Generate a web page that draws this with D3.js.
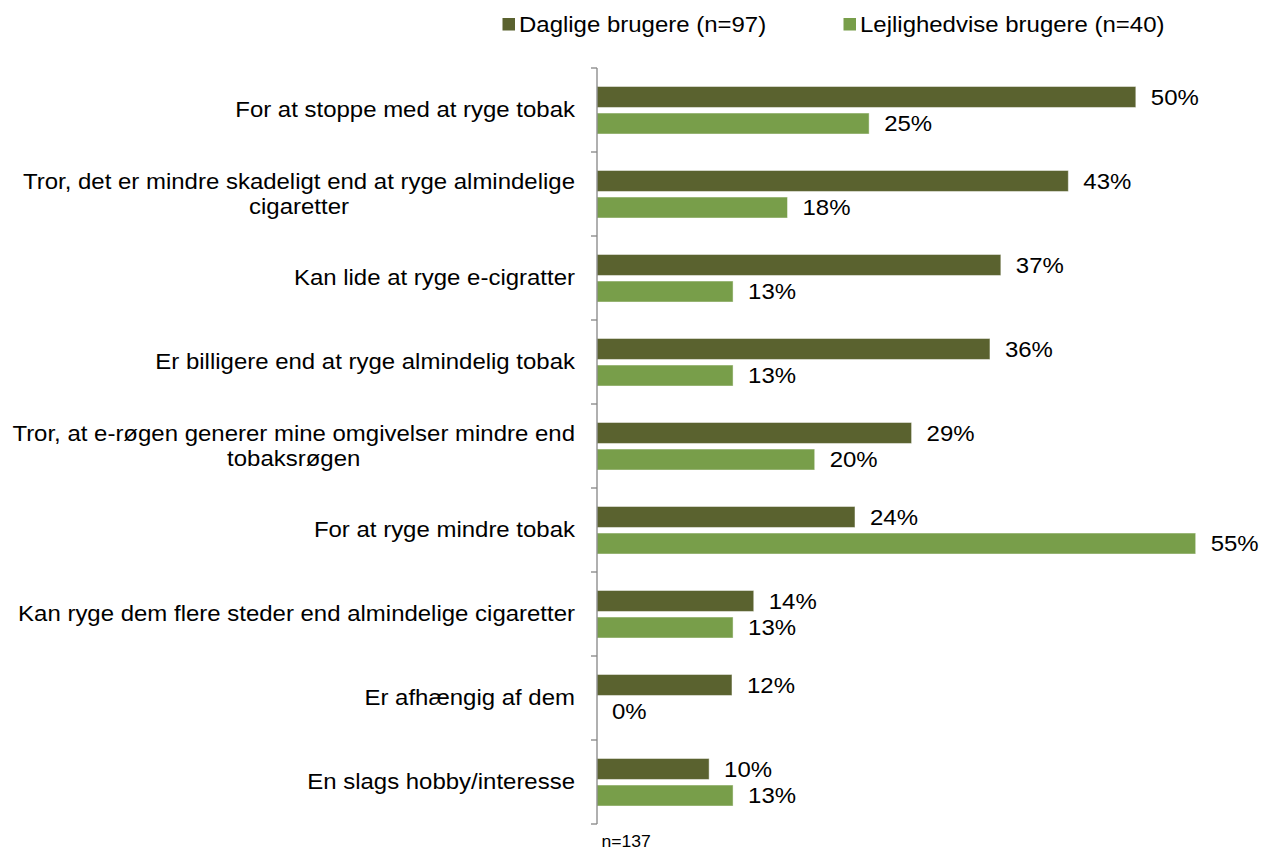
<!DOCTYPE html>
<html>
<head>
<meta charset="utf-8">
<script src="https://cdn.jsdelivr.net/npm/d3@7"></script>
<style>
  html, body { margin: 0; padding: 0; background: #fff; }
  svg { display: block; font-family: "Liberation Sans", Arial, sans-serif; }
</style>
</head>
<body>
<div id="chart"></div>
<script>
// data
var kategorier = [
    ["For at stoppe med at ryge tobak"],
    ["Tror, det er mindre skadeligt end at ryge almindelige", "cigaretter"],
    ["Kan lide at ryge e-cigratter"],
    ["Er billigere end at ryge almindelig tobak"],
    ["Tror, at e-røgen generer mine omgivelser mindre end", "tobaksrøgen"],
    ["For at ryge mindre tobak"],
    ["Kan ryge dem flere steder end almindelige cigaretter"],
    ["Er afhængig af dem"],
    ["En slags hobby/interesse"]
];
var daglige = [49.5, 43.3, 37.1, 36.1, 28.9, 23.7, 14.4, 12.4, 10.3];
var lejlighedvise = [25, 17.5, 12.5, 12.5, 20, 55, 12.5, 0, 12.5];
var serier = ["Daglige brugere (n=97)", "Lejlighedvise brugere (n=40)"];
var farver = ["#5a622f", "#789e4a"];
var fodnote = "n=137";

var width = 1261, height = 852;
var sx = 1.09; // text in the picture is a bit wider than plain Arial

var svg = d3.select("#chart").append("svg")
    .attr("width", width)
    .attr("height", height);

var y0 = d3.scaleBand()
    .domain(d3.range(kategorier.length))
    .range([68, 824])
    .padding(0);

var y1 = d3.scaleBand()
    .domain([0, 1])
    .range([18.5, 66])
    .paddingInner(0.21);

var x = d3.scaleLinear()
    .domain([0, 60])
    .range([597, 1250.1]);

var rows = kategorier.map(function (k, i) {
    return { i: i, navn: k, vals: [daglige[i], lejlighedvise[i]] };
});

// bars
var grupper = svg.selectAll(".gruppe")
    .data(rows)
    .enter().append("g")
    .attr("class", "gruppe")
    .attr("transform", function (d) { return "translate(0," + y0(d.i) + ")"; });

grupper.selectAll("rect")
    .data(function (d) { return d.vals.map(function (v, s) { return { v: v, s: s }; }); })
    .enter().append("rect")
    .attr("x", x(0))
    .attr("y", function (d) { return y1(d.s); })
    .attr("width", function (d) { return x(d.v) - x(0); })
    .attr("height", y1.bandwidth())
    .style("fill", function (d) { return farver[d.s]; })
    .style("stroke", function (d) { return d.v > 0 ? "rgba(255,255,255,0.45)" : "none"; })
    .style("stroke-width", 1);

grupper.selectAll(".vaerdi")
    .data(function (d) { return d.vals.map(function (v, s) { return { v: v, s: s }; }); })
    .enter().append("text")
    .attr("class", "vaerdi")
    .attr("transform", function (d) {
        return "translate(" + (x(d.v) + 15) + "," + (y1(d.s) + y1.bandwidth() / 2) + ") scale(" + sx + ",1)";
    })
    .attr("dy", "0.36em")
    .style("font-size", "22px")
    .style("fill", "#000")
    .text(function (d) { return Math.round(d.v) + "%"; });

// category labels
rows.forEach(function (d) {
    var cy = y0(d.i) + y0.bandwidth() / 2;
    var linjer = d.navn;
    var lh = 25;
    var top = cy - (linjer.length - 1) * lh / 2;
    var g = svg.append("g")
        .attr("transform", "translate(575," + top + ") scale(" + sx + ",1)");
    var first = g.append("text")
        .attr("x", 0)
        .attr("y", 0)
        .attr("dy", "0.32em")
        .attr("text-anchor", "end")
        .style("font-size", "22px")
        .text(linjer[0]);
    var w = first.node().getComputedTextLength();
    for (var j = 1; j < linjer.length; j++) {
        g.append("text")
            .attr("x", -w / 2)
            .attr("y", j * lh)
            .attr("dy", "0.32em")
            .attr("text-anchor", "middle")
            .style("font-size", "22px")
            .text(linjer[j]);
    }
});

// axis with ticks between categories
var akse = svg.append("g").attr("class", "akse");
akse.append("line")
    .attr("x1", x(0)).attr("x2", x(0))
    .attr("y1", y0.range()[0]).attr("y2", y0.range()[1])
    .style("stroke", "#868686").style("stroke-width", 1.3);
var tickPos = y0.domain().map(function (i) { return y0(i); }).concat([y0.range()[1]]);
akse.selectAll(".tick")
    .data(tickPos)
    .enter().append("line")
    .attr("x1", x(0) - 6).attr("x2", x(0))
    .attr("y1", function (d) { return d; })
    .attr("y2", function (d) { return d; })
    .style("stroke", "#868686").style("stroke-width", 1.3);

// legend
var legendX = [502.5, 843.5];
var legend = svg.selectAll(".legend")
    .data(serier)
    .enter().append("g")
    .attr("class", "legend")
    .attr("transform", function (d, i) { return "translate(" + legendX[i] + ",18)"; });
legend.append("rect")
    .attr("width", 12.5).attr("height", 12.5)
    .style("fill", function (d, i) { return farver[i]; });
legend.append("text")
    .attr("transform", "translate(16.5,6.5) scale(" + sx + ",1)")
    .attr("dy", "0.35em")
    .style("font-size", "22px")
    .text(function (d) { return d; });

// footnote
svg.append("text")
    .attr("transform", "translate(601.5,847) scale(1.1,1)")
    .style("font-size", "16px")
    .text(fodnote);
</script>
</body>
</html>
